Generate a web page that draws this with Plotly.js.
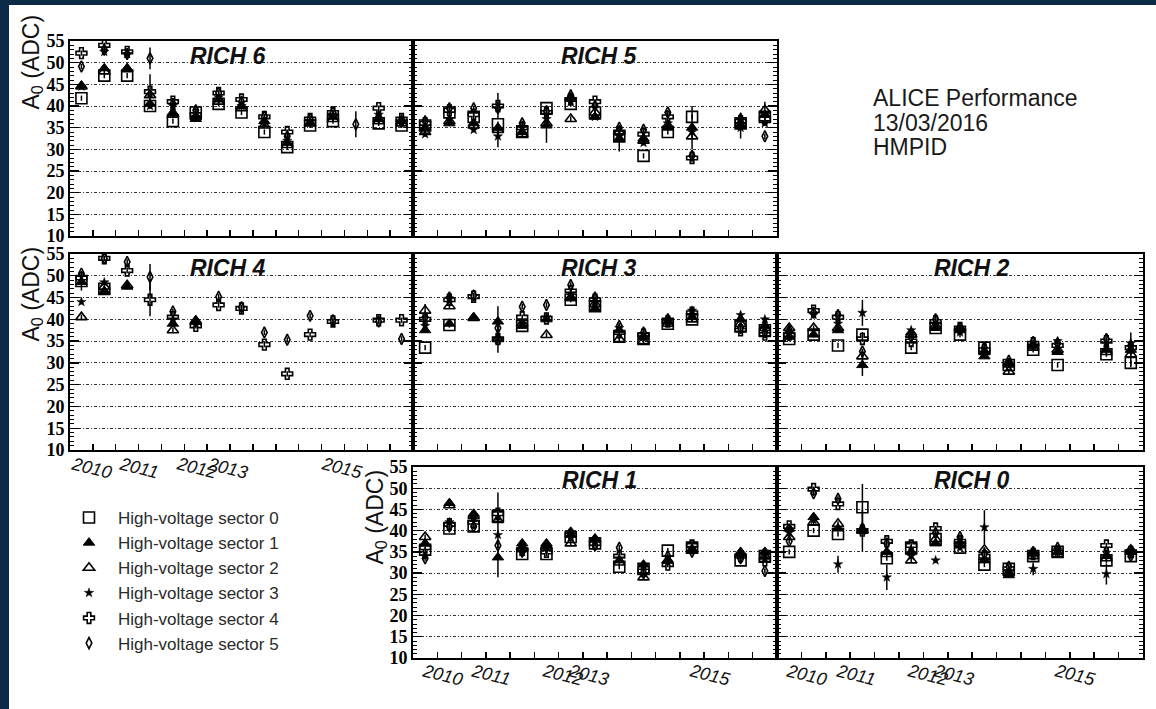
<!DOCTYPE html>
<html>
<head>
<meta charset="utf-8">
<script src="https://cdn.plot.ly/plotly-3.0.1.min.js"></script>
<style>
  html, body { margin: 0; padding: 0; background: #0b2b47; }
  #chart { width: 1156px; height: 709px; }
</style>
</head>
<body>
<div id="chart"></div>
<script>
// Run-period bins (15 bins per detector module)
const runBins = [0.5, 1.5, 2.5, 3.5, 4.5, 5.5, 6.5, 7.5, 8.5, 9.5, 10.5, 11.5, 12.5, 13.5, 14.5];

const sectorNames = [
  'High-voltage sector 0', 'High-voltage sector 1', 'High-voltage sector 2',
  'High-voltage sector 3', 'High-voltage sector 4', 'High-voltage sector 5'
];

// A0 (ADC) per module: one row per high-voltage sector, one value per run bin
const RICH6 = [
  [41.8, 47, 47, 40, 36.5, 38.5, 40.5, 38.5, 34, 30.5, 35.5, 36.5, null, 36, 35.5],
  [44.7, 48.7, 48.7, 40.5, 38.5, 37, 41.5, 40, 36.5, 31.5, 36, 37.5, null, 37, 36.5],
  [44.5, 48, 48.5, 42.5, 38, 37.5, 41, 39.5, 35.5, 31, 36, 37, null, 36.5, 36],
  [44.5, 52.5, 52, 40, 40, 37.5, 42, 40, 36, 32, 36.5, 38, null, 38, 37],
  [52.2, 54, 52.5, 43.3, 41, 38, 43, 41.5, 37.5, 34, 37, 38.5, null, 39.5, 37],
  [49.1, 53, 52, 51, 40.5, 39, 43, 41, 37.5, 33, 37, 38.5, 35.8, 37.5, 36.5]
];
const RICH5 = [
  [35.5, 38.5, 37.5, 35.8, 34, 39.5, 40.5, 38.5, 33, 28.5, 34, 37.5, null, 36, 37.5],
  [35, 36, 36, 35, 34, 35.5, 42, 37.5, 32.5, 32.5, 35, 35, null, 35.5, 38],
  [34, 36.5, 35.5, 34.5, 33.5, 36, 37, 38.5, 34, 32, 35.5, 33, null, 36, 39],
  [33.5, 37, 34.5, 33, 35, 37, 41, 37.5, 33, 31.5, 36, 34, null, 35, 36],
  [36, 39, 38, 40, 35, 38.5, 41.5, 41, 34, 33.5, 37.5, 28, null, 36.5, 37],
  [36.5, 39.5, 39.5, 39.5, 36, 38.8, 42.5, 40, 35, 34.5, 38.5, 28.5, null, 37, 33]
];
const RICH4 = [
  [48.8, 47, null, null, null, null, null, null, null, null, null, null, null, null, null],
  [48.6, 46.5, 47.5, null, 39, 39.8, null, null, null, null, null, null, null, null, null],
  [40.5, 47.5, 47.8, null, 37.5, 39.5, null, null, null, null, null, null, null, null, null],
  [44, 48.5, null, null, 40, 39, null, null, null, null, null, null, null, null, null],
  [49.5, 54, 51.2, 44.5, 40.5, 38.5, 43.3, 42.5, 34.2, 27.5, 36.5, 39.5, null, 39.8, 39.8],
  [50.5, 54, 53.2, 49.7, 41.8, 39.5, 45.2, 42.8, 37, 35.3, 40.8, 39.8, null, 39.5, 35.5]
];
const RICH3 = [
  [33.5, 38.7, null, null, 38.5, null, 44.5, 43, 36, 35.5, 39, 40, null, 38.5, 37.5],
  [37.5, 39, 40.5, 39.5, 38.5, 40, 44.8, 42.5, 37.5, 36, 39.5, 40.5, null, 40, 38.5],
  [42, 43, 40.3, 35.5, 39, 36.4, 45, 43.5, 35.5, 35, 39, 40, null, 39, 38],
  [38.5, 44.8, null, 35.3, 39, 40.5, 46, 44, 38, 36, 39.5, 42, null, 41, 40],
  [40, 44.5, 45.2, 35.5, 40.5, 40.2, 46.5, 44.5, 37, 36.5, 39.5, 41.5, null, 37.5, 36.5],
  [40.5, 45, 45.5, 38, 42.9, 43.3, 47.9, 45, 38.5, 37, 40, 41, null, 38, 37]
];
const RICH2 = [
  [35.5, 36.5, 34, 36.5, null, 33.5, 38, 36.5, 33.5, 29.5, 33, 29.5, null, 32, 30],
  [36, 36.5, 37.5, 29.5, null, 37, 38, 37.5, 31.5, 30, 34, 32.5, null, 33, 33],
  [38, 38, 38, 31.5, null, 36.5, 38.5, 38, 32.5, 28, 33.5, 33, null, 32.5, 32],
  [37, 41, 39, 41.5, null, 37.5, 39, 37, 32, 30, 34, 35, null, 34.5, 34.5],
  [36.5, 42, 40.5, 35.5, null, 35, 39.5, 38, 33, 29.5, 34.5, 34, null, 35, 33.5],
  [37.5, 41.5, 41, 32.6, null, 36, 40, 38, 33.5, 30.5, 34.8, 34.5, null, 35.5, 34]
];
const RICH1 = [
  [35.5, 40.5, 41, 43.5, 34.5, 34.5, 38.5, 37, 31.5, 31, 35.3, 36, null, 33, 34],
  [37, 46.5, 44, 33.7, 37, 37, 39, 38, 33, 32, 33, 35.5, null, 35, 35],
  [38.5, 46, 43.5, 42.5, 36, 36.5, 37, 38, 32.5, 29, 33, 35.5, null, 34.5, 34],
  [34, 42, 43, 39, 35, 36, 38.5, 37.5, 33.5, 31.5, 32.5, 36, null, 34, 33.5],
  [36, 41.5, 42, 44, 35.5, 35, 39, 37, 34, 30.5, 32, 36.5, null, 34, 33],
  [33.5, 41, 41, 36.5, 35, 36, 39.5, 36.5, 36, 30, 34, 35, null, 33.5, 30.5]
];
const RICH0 = [
  [35, 40, 39.2, 45.5, 33.5, 36, 38, 36, 32, 31, 34, 35, null, 33, 34],
  [40.5, 43.2, 40.5, 40.2, 35, 35, 37, 36.5, 33, 29.5, 35, 35, null, 34, 35],
  [38.5, 42, 41.6, 40, 34.5, 33, 38, 37, 35.5, 30, 34, 34.5, null, 33.5, 35.5],
  [39.5, 42.5, 32.1, 40, 29, 34, 33, 36, 40.8, 30.5, 31, 35.5, null, 29.8, 34.5],
  [41, 49.8, 46.3, 40, 37.5, 36.5, 40.5, 37.5, 34, 31, 34.5, 35, null, 36.5, 35],
  [37.5, 48.8, 47.5, 40.5, 37, 35, 39.5, 38.5, 34.5, 31.5, 35, 36, null, 35, 34]
];

// Statistical error on most points, plus the larger ones: [module, sector, bin, error]
const defaultError = 0.6;
const largeErrors = [
  ['RICH 6', 5, 3, 2.5], ['RICH 6', 4, 3, 4], ['RICH 6', 5, 12, 3],
  ['RICH 5', 4, 3, 3], ['RICH 5', 3, 3, 2.5], ['RICH 5', 1, 5, 4], ['RICH 5', 1, 11, 5],
  ['RICH 5', 1, 13, 3], ['RICH 5', 1, 8, 3], ['RICH 5', 2, 14, 2],
  ['RICH 4', 1, 0, 2], ['RICH 4', 5, 3, 3], ['RICH 4', 4, 3, 3.8],
  ['RICH 3', 1, 3, 3.5], ['RICH 3', 3, 3, 3], ['RICH 3', 2, 0, 1.5],
  ['RICH 2', 3, 3, 3], ['RICH 2', 1, 3, 2.5], ['RICH 2', 1, 14, 4],
  ['RICH 1', 3, 3, 10],
  ['RICH 0', 0, 3, 5.5], ['RICH 0', 3, 3, 5], ['RICH 0', 3, 4, 3], ['RICH 0', 3, 8, 4],
  ['RICH 0', 3, 13, 2.5], ['RICH 0', 3, 2, 2], ['RICH 0', 3, 10, 1.5]
];

// Year labels under the bottom panel of each column (positions in bin units)
const yearLabels = ['2010', '2011', '2012', '2013', '2015'];
const yearBinsLeft = [0.92, 3.02, 5.55, 6.87, 11.89];
const yearBinsRight = [1.2, 3.23, 6.18, 7.25, 12.22];

const yTickVals = [10, 15, 20, 25, 30, 35, 40, 45, 50, 55];
const yTickText = ['10', '15', '20', '25', '30', '35', '40', '45', '50', '55'];

// ---------------------------------------------------------------- layout geometry
const W = 1156, H = 709;
const fx = v => v / W;
const fy = v => 1 - v / H;
const cols = [[70, 413], [413, 777], [777, 1143]];
const rows = [[41, 236], [254, 450], [467, 658]];
const titleX = [228, 599, 972];
const titleY = [56, 268, 480];

const panels = [
  { name: 'RICH 6', vals: RICH6, col: 0, row: 0, yLabels: true },
  { name: 'RICH 5', vals: RICH5, col: 1, row: 0 },
  { name: 'RICH 4', vals: RICH4, col: 0, row: 1, yLabels: true, years: yearBinsLeft, yearY: 468 },
  { name: 'RICH 3', vals: RICH3, col: 1, row: 1 },
  { name: 'RICH 2', vals: RICH2, col: 2, row: 1 },
  { name: 'RICH 1', vals: RICH1, col: 1, row: 2, yLabels: true, years: yearBinsRight, yearY: 675 },
  { name: 'RICH 0', vals: RICH0, col: 2, row: 2, years: yearBinsRight, yearY: 675 }
];

const markerStyles = [
  { symbol: 'square-open', size: 11, line: 1.6 },
  { symbol: 'triangle-up', size: 10, line: 1 },
  { symbol: 'triangle-up-open', size: 10, line: 1.6 },
  { symbol: 'star', size: 7, line: 0.5 },
  { symbol: 'cross-open', size: 9, line: 1.6 },
  { symbol: 'diamond-tall-open', size: 8, line: 1.6 }
];

const traces = [];
const layout = {
  width: W, height: H,
  margin: { l: 0, r: 0, t: 0, b: 0 },
  paper_bgcolor: '#0b2b47',
  plot_bgcolor: 'rgba(0,0,0,0)',
  showlegend: true,
  legend: {
    x: fx(60), y: fy(500), xanchor: 'left', yanchor: 'top',
    bgcolor: 'rgba(0,0,0,0)', itemwidth: 48,
    font: { family: 'Liberation Sans, Arial, sans-serif', size: 17, color: '#2a2a2a' },
    tracegroupgap: 0, itemsizing: 'trace'
  },
  shapes: [{
    type: 'rect', xref: 'paper', yref: 'paper', layer: 'below',
    x0: fx(9), x1: 1.01, y0: -0.01, y1: fy(5),
    fillcolor: '#ffffff', line: { width: 0 }
  }],
  annotations: []
};

panels.forEach((p, i) => {
  const n = i + 1;
  const xa = 'xaxis' + n, ya = 'yaxis' + n;
  const xr = 'x' + n, yr = 'y' + n;
  const [c0, c1] = cols[p.col];
  const [r0, r1] = rows[p.row];

  layout[xa] = {
    domain: [fx(c0), fx(c1)], anchor: yr, range: [0, 15],
    tick0: 0, dtick: 1, ticks: 'inside', ticklen: 6, tickwidth: 1.5, tickcolor: '#000',
    showticklabels: false, showgrid: false, zeroline: false,
    showline: true, linewidth: 2, linecolor: '#000', mirror: true, fixedrange: true
  };
  layout[ya] = {
    domain: [fy(r1), fy(r0)], anchor: xr, range: [10, 55],
    tickmode: 'array', tickvals: yTickVals, ticktext: yTickText,
    ticks: 'inside', ticklen: 9, tickwidth: 1.3, tickcolor: '#000',
    minor: { dtick: 1, tick0: 10, ticks: 'inside', ticklen: 4, tickwidth: 1, tickcolor: '#000', showgrid: false },
    showticklabels: !!p.yLabels,
    tickfont: { family: 'Liberation Serif, Times New Roman, serif', size: 18, weight: 'bold', color: '#000' },
    showgrid: true, gridcolor: '#333333', gridwidth: 1, griddash: '3px,2px,1px,2px',
    zeroline: false, showline: true, linewidth: 2, linecolor: '#000', mirror: 'ticks', fixedrange: true
  };

  // error bars for this module
  const errs = p.vals.map(() => runBins.map(() => defaultError));
  largeErrors.filter(e => e[0] === p.name).forEach(e => { errs[e[1]][e[2]] = e[3]; });

  p.vals.forEach((series, s) => {
    const st = markerStyles[s];
    traces.push({
      type: 'scatter', mode: 'markers',
      x: runBins, y: series, xaxis: xr, yaxis: yr,
      name: sectorNames[s], legendgroup: 'sector' + s, showlegend: i === 0,
      marker: { symbol: st.symbol, size: st.size, color: '#000', line: { color: '#000', width: st.line } },
      error_y: { type: 'data', array: errs[s], visible: true, color: '#000', thickness: 1.5, width: 0 },
      hoverinfo: 'x+y+name'
    });
  });

  // module title
  layout.annotations.push({
    text: p.name, xref: 'paper', yref: 'paper', x: fx(titleX[p.col]), y: fy(titleY[p.row]),
    xanchor: 'center', yanchor: 'middle', showarrow: false,
    font: { family: 'Liberation Sans, Arial, sans-serif', size: 23, weight: 'bold', style: 'italic', color: '#111' }
  });

  // y-axis title on labelled panels
  if (p.yLabels) {
    const tx = p.col === 0 ? 32 : 376;
    const ty = p.row === 0 ? 13 : (p.row === 1 ? 245 : 468);
    layout.annotations.push({
      text: 'A<sub>0</sub> (ADC)', xref: 'paper', yref: 'paper', x: fx(tx), y: fy(ty),
      xanchor: 'center', yanchor: 'top', textangle: -90, showarrow: false,
      font: { family: 'Liberation Sans, Arial, sans-serif', size: 23, color: '#111' }
    });
  }

  // year labels under the bottom panels
  if (p.years) {
    p.years.forEach((b, k) => {
      layout.annotations.push({
        text: yearLabels[k], xref: xr, yref: 'paper', x: b, y: fy(p.yearY),
        xanchor: 'center', yanchor: 'middle', textangle: 14, showarrow: false,
        font: { family: 'Liberation Sans, Arial, sans-serif', size: 18, style: 'italic', color: '#111' }
      });
    });
  }
});

// Performance label
['ALICE Performance', '13/03/2016', 'HMPID'].forEach((t, k) => {
  layout.annotations.push({
    text: t, xref: 'paper', yref: 'paper', x: fx(871), y: fy([98, 123, 147][k]),
    xanchor: 'left', yanchor: 'middle', showarrow: false,
    font: { family: 'Liberation Sans, Arial, sans-serif', size: 23, color: '#1a1a1a' }
  });
});

Plotly.newPlot('chart', traces, layout, { staticPlot: true, displayModeBar: false });
</script>
</body>
</html>
